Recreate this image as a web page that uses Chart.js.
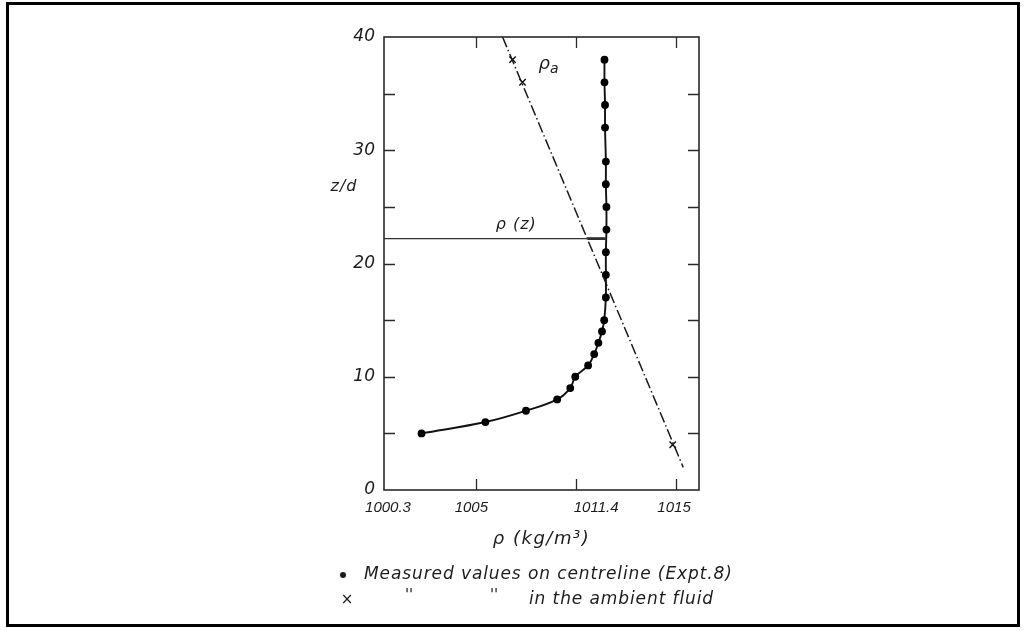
<!DOCTYPE html>
<html><head><meta charset="utf-8">
<script src="https://cdn.jsdelivr.net/npm/chart.js@4.4.1/dist/chart.umd.min.js"></script>
<style>
html,body{margin:0;padding:0;background:#fff;}
#wrap{position:relative;width:1026px;height:631px;overflow:hidden;}
#frame{position:absolute;left:6px;top:2px;width:1014px;height:625px;border:3px solid #000;box-sizing:border-box;pointer-events:none;}
canvas{position:absolute;left:0;top:0;}
</style></head><body>
<div id="wrap"><canvas id="c" width="1026" height="631"></canvas><div id="frame"></div></div>
<script>
// ---- data ----
// centreline measurements (z/d, rho in kg/m^3)
const centreZ   = [5, 6, 7, 8, 9, 10, 11, 12, 13, 14, 15, 17, 19, 21, 23, 25, 27, 29, 32, 34, 36, 38];
const centreRho = [1002.21, 1005.58, 1008.18, 1010.18, 1011.02, 1011.34, 1011.83, 1012.05, 1012.20, 1012.33, 1012.41,
                   1012.47, 1012.47, 1012.47, 1012.49, 1012.49, 1012.47, 1012.47, 1012.44, 1012.44, 1012.42, 1012.42];
// ambient fluid measurements
const ambientZ   = [38, 36, 4];
const ambientRho = [1007.32, 1007.96, 1014.88];
// ambient density line rho_a (dash-dot)
const fitZ   = [40, 2];
const fitRho = [1006.68, 1015.26];
// reference level rho(z)
const refZ      = 22.2;
const refRho    = [1000.3, 1012.45];
const refBarRho = [1011.80, 1012.45];
// axis ticks
const xTickValues = [1005, 1011.4, 1015];
const xLabelValues = [1000.3, 1005, 1011.4, 1015];
const xTickLabels = ['1000.3', '1005', '1011.4', '1015'];
const yTickValues = [0, 10, 20, 30, 40];
const yMinorTicks = [5, 10, 15, 20, 25, 30, 35];
// the printed axis is not uniform: labelled densities sit at these axis positions
const axisRho = [1000.3, 1005, 1011.4, 1015];
const axisPos = [0, 0.925, 1.925, 2.925];

const style = {
  xLabelShiftPx: [4, -5, 20, -2],
  ink: '#1c1c1c',
  font: '"DejaVu Sans", sans-serif',
  numFont: '"Liberation Sans", Arial, sans-serif'
};

function toPos(r) {
  let i = 0;
  if (r > axisRho[axisRho.length - 1]) i = axisRho.length - 2;
  else { while (i < axisRho.length - 2 && r > axisRho[i + 1]) i++; }
  const t = (r - axisRho[i]) / (axisRho[i + 1] - axisRho[i]);
  return axisPos[i] + t * (axisPos[i + 1] - axisPos[i]);
}
const pts = (rs, zs) => rs.map((r, i) => ({x: toPos(r), y: zs[i]}));

const decor = {
  id: 'decor',
  afterDraw(chart) {
    const {ctx, chartArea: a, scales: {x, y}} = chart;
    ctx.save();
    ctx.strokeStyle = '#2a2a2a';
    ctx.lineWidth = 1.6;
    ctx.strokeRect(a.left, a.top, a.right - a.left, a.bottom - a.top);
    const tl = 11;
    ctx.lineWidth = 1.3;
    ctx.beginPath();
    yMinorTicks.forEach(v => {
      const py = Math.round(y.getPixelForValue(v)) + 0.5;
      ctx.moveTo(a.left, py); ctx.lineTo(a.left + tl, py);
      ctx.moveTo(a.right, py); ctx.lineTo(a.right - tl, py);
    });
    xTickValues.forEach(r => {
      const px = Math.round(x.getPixelForValue(toPos(r))) + 0.5;
      ctx.moveTo(px, a.bottom); ctx.lineTo(px, a.bottom - tl);
      ctx.moveTo(px, a.top); ctx.lineTo(px, a.top + tl);
    });
    ctx.stroke();

    ctx.fillStyle = style.ink;
    ctx.textBaseline = 'middle';
    // axis titles
    ctx.textAlign = 'center';
    ctx.letterSpacing = '1px';
    ctx.font = 'italic 16px ' + style.font;
    ctx.fillText('z/d', a.left - 40, y.getPixelForValue(26.8));
    ctx.letterSpacing = '1.5px';
    ctx.font = 'italic 18px ' + style.font;
    ctx.fillText('\u03C1 (kg/m\u00B3)', (a.left + a.right) / 2, a.bottom + 49);
    // curve labels
    ctx.letterSpacing = '1px';
    ctx.font = 'italic 16px ' + style.font;
    ctx.fillText('\u03C1 (z)', x.getPixelForValue(toPos(1007.56)), y.getPixelForValue(23.4));
    ctx.letterSpacing = '0px';
    ctx.font = 'italic 18px ' + style.font;
    const rx = x.getPixelForValue(toPos(1009.35)), ry = y.getPixelForValue(37.6);
    ctx.fillText('\u03C1', rx, ry);
    ctx.font = 'italic 14px ' + style.font;
    ctx.fillText('a', rx + 10, ry + 5);
    // legend text
    ctx.textAlign = 'left';
    ctx.letterSpacing = '0.9px';
    ctx.font = 'italic 17px ' + style.font;
    ctx.beginPath(); ctx.arc(343, 575, 3, 0, Math.PI * 2); ctx.fill();
    ctx.fillText('Measured values on centreline (Expt.8)', 364, 575);
    ctx.letterSpacing = '0px';
    ctx.font = '15px ' + style.font;
    ctx.textAlign = 'center';
    ctx.fillText('\u00D7', 347, 600);
    ctx.font = 'italic 15px ' + style.font;
    ctx.fillText("''", 409, 596);
    ctx.fillText("''", 494, 596);
    ctx.textAlign = 'left';
    ctx.letterSpacing = '0.9px';
    ctx.font = 'italic 17px ' + style.font;
    ctx.fillText('in the ambient fluid', 529, 600);
    ctx.restore();
  }
};

new Chart(document.getElementById('c'), {
  type: 'scatter',
  data: {
    datasets: [
      {data: [{x: toPos(refRho[0]), y: refZ}, {x: toPos(refRho[1]), y: refZ}], showLine: true,
       borderColor: '#333', borderWidth: 1.2, pointRadius: 0},
      {data: [{x: toPos(refBarRho[0]), y: refZ}, {x: toPos(refBarRho[1]), y: refZ}], showLine: true,
       borderColor: '#111', borderWidth: 2.6, pointRadius: 0},
      {data: pts(fitRho, fitZ), showLine: true, borderColor: '#1a1a1a', borderWidth: 1.5,
       borderDash: [11, 3, 1.5, 3], pointRadius: 0},
      {data: pts(ambientRho, ambientZ), showLine: false, pointStyle: 'crossRot', pointRadius: 4.5,
       borderColor: '#111', borderWidth: 1.4},
      {data: pts(centreRho, centreZ), showLine: true, tension: 0.4, borderColor: '#111', borderWidth: 1.9,
       pointRadius: 3.9, pointBackgroundColor: '#000', pointBorderColor: '#000', pointBorderWidth: 0}
    ]
  },
  options: {
    responsive: false, animation: false, devicePixelRatio: 1,
    layout: {padding: {left: 324, right: 327, top: 37, bottom: 111}},
    plugins: {legend: {display: false}, tooltip: {enabled: false}},
    scales: {
      x: {
        type: 'linear', min: 0, max: 3.155,
        grid: {display: false, drawTicks: false}, border: {display: false},
        afterBuildTicks: s => { s.ticks = xLabelValues.map((r, i) => ({value: toPos(r) + style.xLabelShiftPx[i] / 100})); },
        ticks: {callback: (v, i) => xTickLabels[i], autoSkip: false, maxRotation: 0,
                font: {family: style.numFont, size: 15, style: 'italic'}, color: style.ink, padding: 9},
        afterFit: s => { s.height = 30; }
      },
      y: {
        type: 'linear', min: 0, max: 40,
        grid: {display: false, drawTicks: false}, border: {display: false},
        afterBuildTicks: s => { s.ticks = yTickValues.map(v => ({value: v})); },
        ticks: {font: {family: style.font, size: 17, style: 'italic'}, color: style.ink, padding: 9},
        afterFit: s => { s.width = 60; }
      }
    }
  },
  plugins: [decor]
});
</script>
</body></html>
